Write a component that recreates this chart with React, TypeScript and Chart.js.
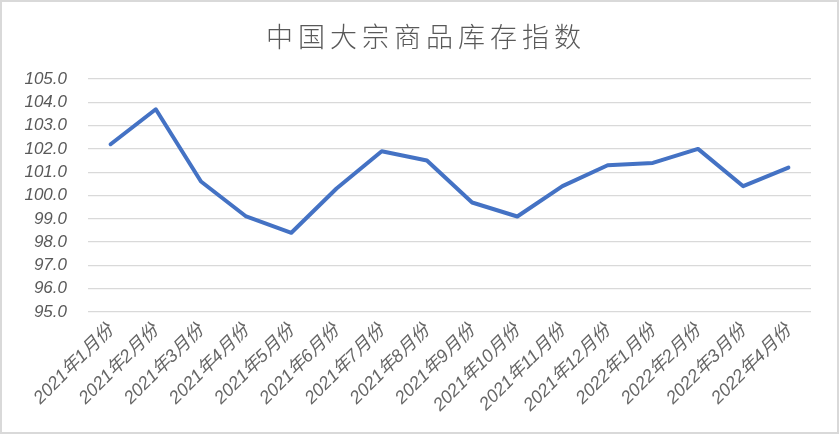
import React, { useEffect, useRef } from "react";
import { Chart, registerables } from "chart.js";

Chart.register(...registerables);

const categories = [
  "2021年1月份", "2021年2月份", "2021年3月份", "2021年4月份", "2021年5月份",
  "2021年6月份", "2021年7月份", "2021年8月份", "2021年9月份", "2021年10月份",
  "2021年11月份", "2021年12月份", "2022年1月份", "2022年2月份", "2022年3月份",
  "2022年4月份",
];
const indexValues = [102.2, 103.7, 100.6, 99.1, 98.4, 100.3, 101.9, 101.5, 99.7, 99.1, 100.4, 101.3, 101.4, 102.0, 100.4, 101.2];
const yMin = 95;
const yMax = 105;
const yStep = 1;
const title = "中国大宗商品库存指数";

const yFont = { family: "'Liberation Sans', 'Noto Sans CJK SC', sans-serif", size: 17, style: "italic" as const };
const xFont = { family: "'Liberation Sans', 'Noto Sans CJK SC', sans-serif", size: 18, style: "italic" as const };

export default function App() {
  const ref = useRef<HTMLCanvasElement | null>(null);
  useEffect(() => {
    document.body.style.margin = "0";
    const ctx = ref.current!;
    const chart = new Chart(ctx, {
      type: "line",
      data: {
        labels: categories,
        datasets: [
          {
            label: title,
            data: indexValues,
            borderColor: "#4472C4",
            backgroundColor: "#4472C4",
            borderWidth: 4,
            pointRadius: 0,
            tension: 0,
            borderJoinStyle: "round",
            borderCapStyle: "round",
          },
        ],
      },
      options: {
        responsive: false,
        animation: false,
        layout: { padding: { left: 0, right: 28, top: 79, bottom: 0 } },
        plugins: {
          legend: { display: false },
          tooltip: { enabled: false },
          title: { display: false },
        },
        scales: {
          x: {
            offset: true,
            grid: { display: false, drawTicks: false },
            border: { display: false },
            ticks: {
              color: "#666666",
              font: xFont,
              maxRotation: 45,
              minRotation: 45,
              autoSkip: false,
              padding: 8,
            },
            afterFit: (s: any) => {
              s.height = 122;
            },
          },
          y: {
            min: yMin,
            max: yMax,
            grid: { color: "#d9d9d9", lineWidth: 1.3, drawTicks: false },
            border: { display: false },
            ticks: {
              stepSize: yStep,
              autoSkip: false,
              color: "#595959",
              font: yFont,
              padding: 21,
              callback: (v: any) => Number(v).toFixed(1),
            },
            afterFit: (s: any) => {
              s.width = 88;
            },
          },
        },
      },
      plugins: [
        {
          id: "frame",
          beforeDraw(c: any) {
            const g = c.ctx;
            g.save();
            g.fillStyle = "#ffffff";
            g.fillRect(0, 0, c.width, c.height);
            g.restore();
          },
          afterDraw(c: any) {
            const g = c.ctx;
            g.save();
            g.strokeStyle = "#d9d9d9";
            g.lineWidth = 2;
            g.strokeRect(1, 1, c.width - 2, c.height - 2);
            g.fillStyle = "#595959";
            g.font = "300 27px 'Noto Sans CJK SC'";
            (g as any).letterSpacing = "5px";
            g.textAlign = "center";
            g.textBaseline = "middle";
            g.fillText(title, 426, 37);
            g.restore();
          },
        },
      ],
    });
    return () => chart.destroy();
  }, []);
  return (
    <div style={{ width: 839, height: 434 }}>
      <canvas ref={ref} width={839} height={434} style={{ display: "block" }} />
    </div>
  );
}
